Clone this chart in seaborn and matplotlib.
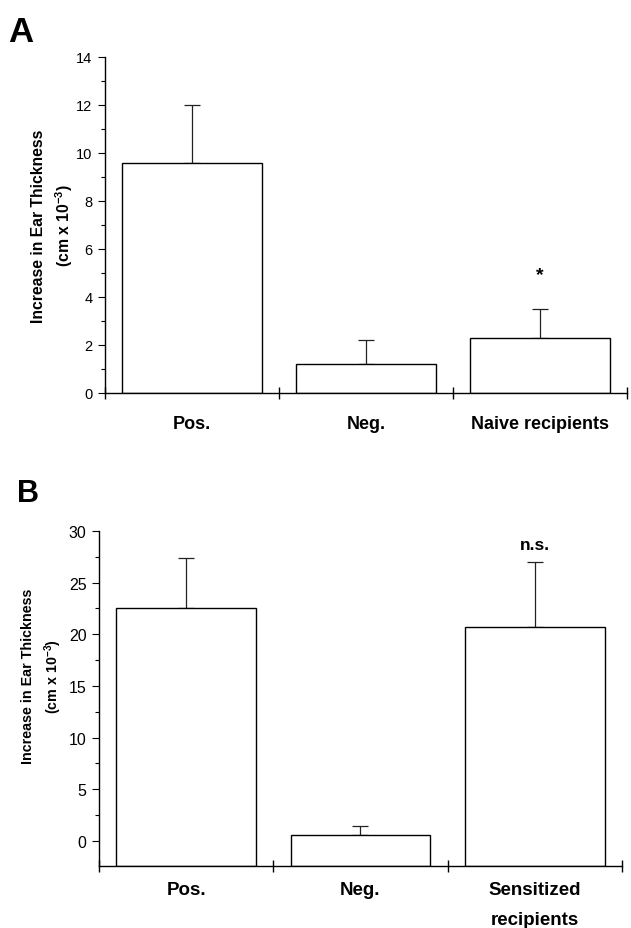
import matplotlib
matplotlib.use("Agg")
import matplotlib.pyplot as plt
import seaborn as sns
import pandas as pd
import numpy as np
from matplotlib.ticker import MultipleLocator
import matplotlib.transforms as mtrans

sns.set_theme(style="ticks")
plt.rcParams['font.family'] = ['Liberation Sans', 'DejaVu Sans']
plt.rcParams['text.color'] = 'black'
plt.rcParams['axes.labelcolor'] = 'black'
plt.rcParams['xtick.color'] = 'black'
plt.rcParams['ytick.color'] = 'black'
plt.rcParams['mathtext.default'] = 'regular'

# Panel A data
cats_a = ["Pos.", "Neg.", "Naive recipients"]
vals_a = [9.6, 1.2, 2.3]
err_a = [2.4, 1.0, 1.2]
# Panel B data
cats_b = ["Pos.", "Neg.", "Sensitized\nrecipients"]
vals_b = [22.5, 0.6, 20.7]
err_b = [4.9, 0.8, 6.3]

fig = plt.figure(figsize=(6.31, 9.29), dpi=100)
axA = fig.add_axes([0.1664, 0.5759, 0.8273, 0.3617])
axB = fig.add_axes([0.1569, 0.0667, 0.8288, 0.3606])


def draw(ax, cats, vals, errs, ylim, major, minor, ylabel_size, tick_size,
         annot, annot_y, label_y, cat_size, label_xy):
    df = pd.DataFrame({"cat": cats, "val": vals})
    sns.barplot(data=df, x="cat", y="val", ax=ax, color="white",
                edgecolor="black", linewidth=1.0, width=0.8, errorbar=None, saturation=1)
    # bars rise from the bottom of the axis
    for p, v in zip(ax.patches, vals):
        p.set_y(ylim[0])
        p.set_height(v - ylim[0])
    x = np.arange(len(cats))
    ax.errorbar(x, vals, yerr=[np.zeros(len(errs)), errs], fmt="none",
                ecolor="#222222", elinewidth=0.9, capsize=6, capthick=0.9, zorder=0.5)
    ax.set_xlim(-0.5, len(cats) - 0.5)
    ax.set_ylim(*ylim)
    ax.yaxis.set_major_locator(MultipleLocator(major))
    ax.yaxis.set_minor_locator(MultipleLocator(minor))
    ax.set_xticks(np.arange(len(cats) + 1) - 0.5)
    ax.set_xticklabels([])
    ax.tick_params(axis="x", direction="inout", length=8, width=1, colors="black")
    ax.tick_params(axis="y", which="major", direction="out", length=5, width=0.8,
                   labelsize=tick_size, pad=4, colors="black")
    ax.tick_params(axis="y", which="minor", direction="out", length=3, width=0.8, colors="black")
    for s in ["top", "right"]:
        ax.spines[s].set_visible(False)
    for s in ["left", "bottom"]:
        ax.spines[s].set_linewidth(1.0)
        ax.spines[s].set_color("black")
    ax.set_xlabel("")
    ax.set_ylabel("Increase in Ear Thickness\n(cm x 10$^{-3}$)", fontsize=ylabel_size,
                  fontweight="bold", linespacing=1.45)
    ax.yaxis.set_label_coords(*label_xy)
    trans = mtrans.blended_transform_factory(ax.transData, ax.transAxes)
    for i, c in enumerate(cats):
        ax.text(i, label_y, c, transform=trans, ha="center", va="top",
                fontsize=cat_size, fontweight="bold", linespacing=2.0)
    ax.text(2, annot_y, annot, ha="center", va="bottom",
            fontsize=14 if annot == "*" else 12.5, fontweight="bold")


draw(axA, cats_a, vals_a, err_a, (0, 14), 2, 1, 11.3, 10.5, "*", 4.6, -0.065, 13,
     (-0.057, 0.5))
draw(axB, cats_b, vals_b, err_b, (-2.45, 30), 5, 2.5, 10.3, 11.5, "n.s.", 28.0, -0.045, 13.5,
     (-0.067, 0.57))

fig.text(0.013, 0.9548, "A", fontsize=25, fontweight="bold", va="baseline", ha="left")
fig.text(0.027, 0.4596, "B", fontsize=22, fontweight="bold", va="baseline", ha="left")

fig.savefig("out.png", dpi=100)
